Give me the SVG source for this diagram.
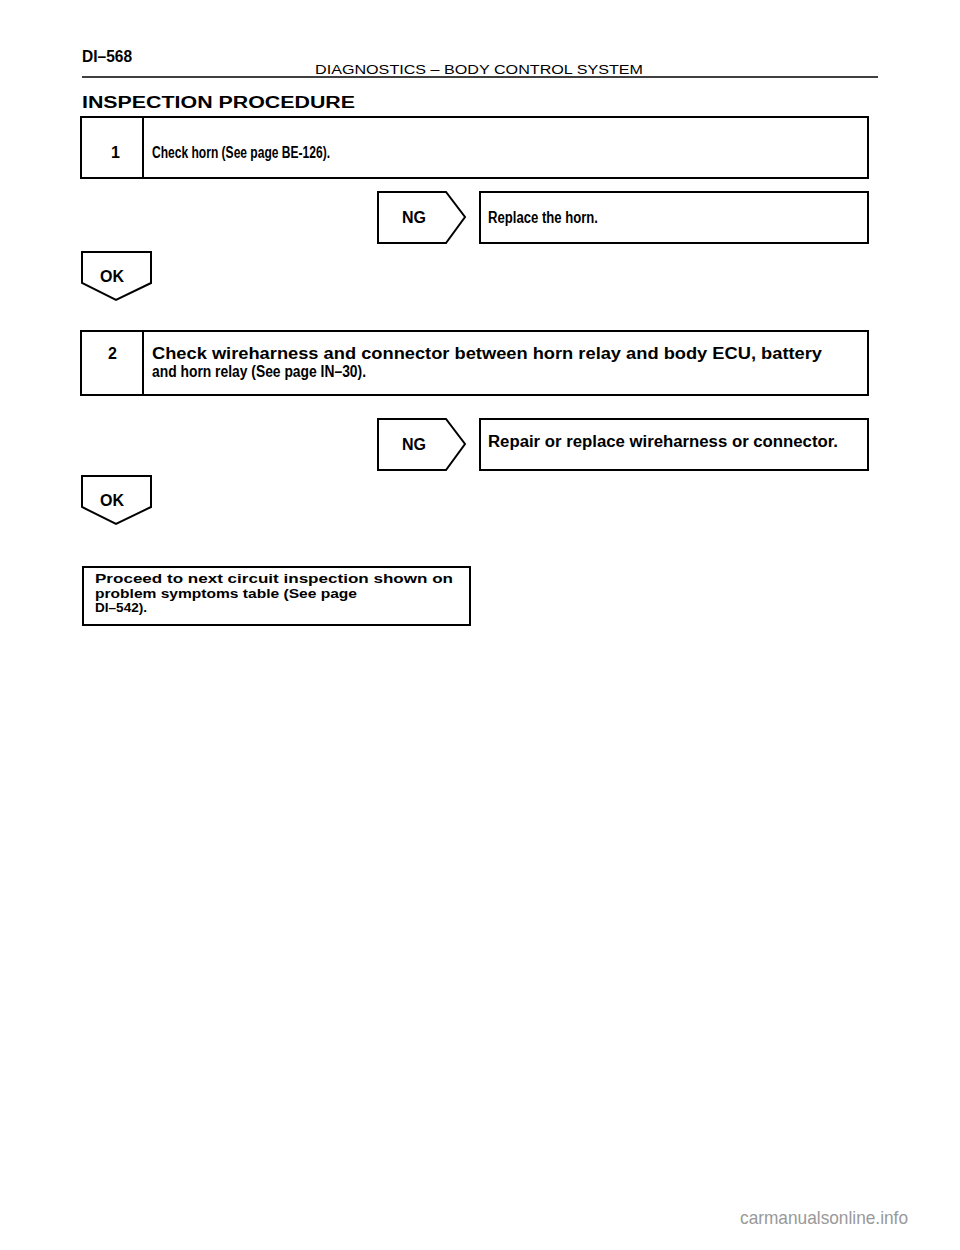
<svg xmlns="http://www.w3.org/2000/svg" width="960" height="1250" viewBox="0 0 960 1250">
<style>
.b{fill:#fff;stroke:#000;stroke-width:2}
.t{font-family:"Liberation Sans",Arial,sans-serif;font-weight:bold;font-size:16px;fill:#000}
.p{font-family:"Liberation Sans",Arial,sans-serif;font-weight:bold;font-size:12.5px;fill:#000}
.s{font-family:"Liberation Sans",Arial,sans-serif;font-weight:bold;font-size:16px;fill:#000}
.h{font-family:"Liberation Sans",Arial,sans-serif;font-size:12px;fill:#000}
</style>
<rect width="960" height="1250" fill="#fff"/>
<g id="header">
<text class="t" x="82" y="62" font-size="13" textLength="50" lengthAdjust="spacingAndGlyphs">DI–568</text>
<text class="h" x="315" y="74" textLength="328" lengthAdjust="spacingAndGlyphs">DIAGNOSTICS  –  BODY CONTROL SYSTEM</text>
<line x1="82" y1="77" x2="878" y2="77" stroke="#000" stroke-width="1.5"/>
<text class="t" x="82" y="108" font-size="21" textLength="273" lengthAdjust="spacingAndGlyphs">INSPECTION PROCEDURE</text>
</g>
<g id="connectors"></g>
<g id="step1">
<rect class="b" x="81" y="117" width="787" height="61"/>
<line x1="143" y1="117" x2="143" y2="178" stroke="#000" stroke-width="2"/>
<text class="s" x="111" y="158">1</text>
<text class="t" x="152" y="158" textLength="178" lengthAdjust="spacingAndGlyphs">Check horn (See page BE-126).</text>
</g>
<g id="ng1">
<path class="b" d="M378,192 H446 L465,217 L446,243 H378 Z"/>
<text class="s" x="414" y="223" text-anchor="middle">NG</text>
</g>
<g id="replace-horn">
<rect class="b" x="480" y="192" width="388" height="51"/>
<text class="t" x="488" y="223" textLength="110" lengthAdjust="spacingAndGlyphs">Replace the horn.</text>
</g>
<g id="ok1">
<path class="b" d="M82,252 H151 V283 L116,300 L82,283 Z"/>
<text class="s" x="112" y="282" text-anchor="middle">OK</text>
</g>
<g id="step2">
<rect class="b" x="81" y="331" width="787" height="64"/>
<line x1="143" y1="331" x2="143" y2="395" stroke="#000" stroke-width="2"/>
<text class="s" x="108" y="359">2</text>
<text class="t" x="152" y="359" textLength="670" lengthAdjust="spacingAndGlyphs">Check wireharness and connector between horn relay and body ECU, battery</text>
<text class="t" x="152" y="377" textLength="214" lengthAdjust="spacingAndGlyphs">and horn relay (See page IN–30).</text>
</g>
<g id="ng2">
<path class="b" d="M378,419 H446 L465,444 L446,470 H378 Z"/>
<text class="s" x="414" y="450" text-anchor="middle">NG</text>
</g>
<g id="repair">
<rect class="b" x="480" y="419" width="388" height="51"/>
<text class="t" x="488" y="447" textLength="350" lengthAdjust="spacingAndGlyphs">Repair or replace wireharness or connector.</text>
</g>
<g id="ok2">
<path class="b" d="M82,476 H151 V507 L116,524 L82,507 Z"/>
<text class="s" x="112" y="506" text-anchor="middle">OK</text>
</g>
<g id="proceed">
<rect class="b" x="83" y="567" width="387" height="58"/>
<text class="p" x="95" y="583" textLength="358" lengthAdjust="spacingAndGlyphs">Proceed to next circuit inspection shown on</text>
<text class="p" x="95" y="597.5" textLength="262" lengthAdjust="spacingAndGlyphs">problem symptoms table (See page</text>
<text class="p" x="95" y="612" textLength="52" lengthAdjust="spacingAndGlyphs">DI–542).</text>
</g>
<text x="908" y="1224" text-anchor="end" font-family="'Liberation Sans',Arial,sans-serif" font-size="19" fill="#999" textLength="168" lengthAdjust="spacingAndGlyphs">carmanualsonline.info</text>
</svg>
